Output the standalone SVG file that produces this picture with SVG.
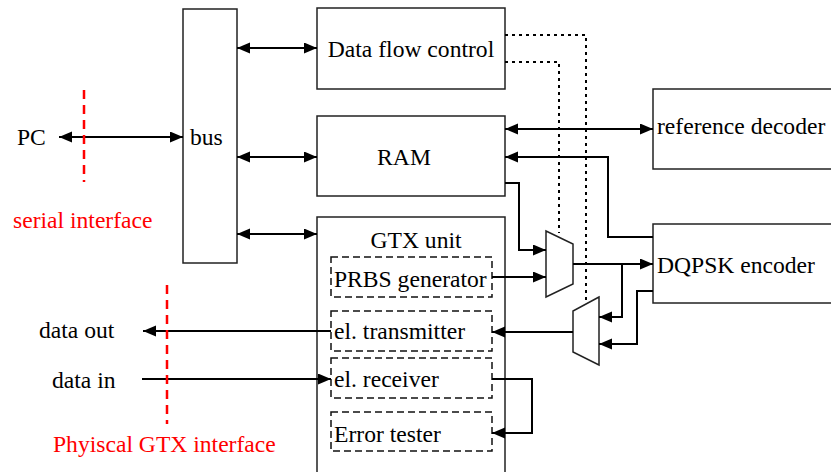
<svg xmlns="http://www.w3.org/2000/svg" width="831" height="472" viewBox="0 0 831 472" font-family="Liberation Serif, serif">
<style>
text{font-family:'Liberation Serif',serif;font-size:23.6px;fill:#000}
.red{fill:#f00}
.box{fill:#fff;stroke:#222;stroke-width:1.5}
.dbox{fill:none;stroke:#111;stroke-width:1.5;stroke-dasharray:7,4}
.c{fill:none;stroke:#000;stroke-width:2}
.dot{fill:none;stroke:#000;stroke-width:2;stroke-dasharray:3,4}
.rd{fill:none;stroke:#f00;stroke-width:2.5;stroke-dasharray:9,6}
</style>
<defs>
<marker id="ah" markerUnits="userSpaceOnUse" markerWidth="14" markerHeight="12" refX="13" refY="5.5" orient="auto-start-reverse">
<path d="M0,0 L13,5.5 L0,11 z" fill="#000"/>
</marker>
</defs>
<rect width="831" height="472" fill="#fff"/>
<g id="bus"><rect class="box" x="183" y="9" width="54" height="254"/><text x="190" y="145">bus</text></g>
<g id="dfc"><rect class="box" x="317" y="8" width="188" height="81"/><text x="411" y="57" text-anchor="middle">Data flow control</text></g>
<g id="ram"><rect class="box" x="317" y="116" width="188" height="80"/><text x="404" y="165" text-anchor="middle">RAM</text></g>
<g id="gtx"><rect class="box" x="317" y="217" width="188" height="262"/><text x="416" y="248" text-anchor="middle">GTX unit</text></g>
<g id="prbs"><rect class="dbox" x="331" y="257" width="161" height="40"/><text x="334" y="287">PRBS generator</text></g>
<g id="eltx"><rect class="dbox" x="331" y="311" width="161" height="40"/><text x="334" y="339">el. transmitter</text></g>
<g id="elrx"><rect class="dbox" x="331" y="358" width="161" height="40"/><text x="334" y="387">el. receiver</text></g>
<g id="err"><rect class="dbox" x="331" y="412" width="161" height="39"/><text x="334" y="442">Error tester</text></g>
<g id="refdec"><rect class="box" x="653" y="89" width="190" height="80"/><text x="657" y="134">reference decoder</text></g>
<g id="dqpsk"><rect class="box" x="653" y="224" width="190" height="79"/><text x="657" y="273">DQPSK encoder</text></g>
<g id="mux1"><path class="box" d="M546,231 L573,244 L573,284 L546,297 Z"/></g>
<g id="mux2"><path class="box" d="M599,297 L573,311 L573,352 L599,365 Z"/></g>
<g id="labels">
<text x="17" y="145">PC</text>
<text class="red" x="13" y="228">serial interface</text>
<text x="39" y="338">data out</text>
<text x="52" y="388">data in</text>
<text class="red" x="53" y="452">Phyiscal GTX interface</text>
</g>
<g id="connectors">
<path class="c" d="M59,137 H183" marker-start="url(#ah)" marker-end="url(#ah)"/>
<path class="c" d="M237,48 H317" marker-start="url(#ah)" marker-end="url(#ah)"/>
<path class="c" d="M237,157 H317" marker-start="url(#ah)" marker-end="url(#ah)"/>
<path class="c" d="M237,234 H317" marker-start="url(#ah)" marker-end="url(#ah)"/>
<path class="c" d="M505,129 H653" marker-start="url(#ah)" marker-end="url(#ah)"/>
<path class="c" d="M653,237 H608 V157 H505" marker-end="url(#ah)"/>
<path class="c" d="M505,183 H519 V250 H546" marker-end="url(#ah)"/>
<path class="c" d="M492,277 H546" marker-end="url(#ah)"/>
<path class="c" d="M573,264 H653" marker-end="url(#ah)"/>
<path class="c" d="M622,264 V317 H599" marker-end="url(#ah)"/>
<path class="c" d="M653,291 H637 V344 H599" marker-end="url(#ah)"/>
<path class="c" d="M573,332 H492" marker-end="url(#ah)"/>
<path class="c" d="M331,331 H143" marker-end="url(#ah)"/>
<path class="c" d="M142,379 H331" marker-end="url(#ah)"/>
<path class="c" d="M492,379 H532 V433 H492" marker-end="url(#ah)"/>
<path class="dot" d="M505,35 H586 V300"/>
<path class="dot" d="M505,62 H559 V233"/>
<path class="rd" d="M84,90 V182"/>
<path class="rd" d="M167,285 V424"/>
</g>
</svg>
